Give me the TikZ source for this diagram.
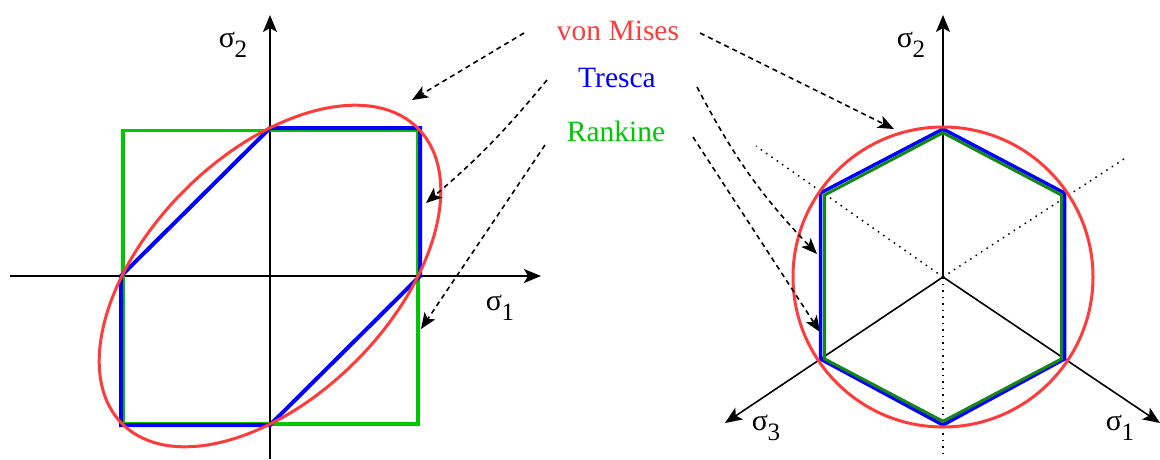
\documentclass[tikz,border=0pt]{standalone}
\usepackage{fontspec}
\setmainfont{Liberation Serif}
\usetikzlibrary{arrows.meta}
\definecolor{vmred}{RGB}{255,60,60}
\definecolor{trblue}{RGB}{0,0,255}
\definecolor{rkgreen}{RGB}{0,200,0}
\definecolor{rkdgreen}{RGB}{20,135,20}
\newcommand{\sigl}[1]{σ\kern-0.5pt\raisebox{-0.32em}{\fontsize{25}{25}\selectfont #1}}
\begin{document}
\begin{tikzpicture}[x=1pt,y=-1pt,
  axis/.style={line width=1.6pt},
  axarrow/.style={axis,-{Stealth[length=17pt,width=14pt,inset=4pt]}},
  callout/.style={line width=1.6pt, dash pattern=on 5pt off 4pt, -{Stealth[length=16pt,width=13pt,inset=4pt]}},
  dotline/.style={line width=1.5pt, dash pattern=on 1.5pt off 5pt},
  lbl/.style={font=\fontsize{29.5}{31}\selectfont, anchor=base, inner sep=0pt},
  siglbl/.style={font=\fontsize{30}{30}\selectfont, inner sep=0pt},
  vm/.style={vmred, line width=3pt},
  tr/.style={trblue, line width=4pt, line join=miter},
  rk/.style={line width=3.5pt, line join=miter}]
\useasboundingbox (0,0) rectangle (1160,459);

% ---------- left plot ----------
\coordinate (O1) at (270,276);
\coordinate (L1b) at (270,459);
\coordinate (L1t) at (270,15);
\coordinate (L1l) at (10,276);
\coordinate (L1r) at (541,276);
\draw[axis] (L1b) -- (O1);
\draw[axarrow] (O1) -- (L1t);
\draw[axis] (L1l) -- (O1);
\draw[axarrow] (O1) -- (L1r);
\draw[rk, rkgreen] (123,130.5) rectangle (418,424);
\draw[tr] (270,128) -- (420,128) -- (420,276) -- (270,425) -- (121,425) -- (121,276) -- cycle;
\draw[vm, rotate around={45:(O1)}] (O1) ellipse [x radius=209, y radius=121];
\node[siglbl] (s2L) at (233,45) {\sigl{2}};
\node[siglbl] (s1L) at (500,308) {\sigl{1}};

% ---------- right plot ----------
\coordinate (O2) at (943,277);
\coordinate (R2t) at (943,15);
\coordinate (R1t) at (1160,423);
\coordinate (R3t) at (725,423);
\coordinate (Dul) at (756,146);
\coordinate (Dur) at (1127,157);
\coordinate (Db) at (943,459);
\draw[dotline] (O2) -- (Dul);
\draw[dotline] (O2) -- (Dur);
\draw[dotline] (O2) -- (Db);
\draw[axarrow] (O2) -- (R2t);
\draw[axarrow] (O2) -- (R1t);
\draw[axarrow] (O2) -- (R3t);
\draw[tr, line width=3.5pt] (943,129) -- (1064.5,193) -- (1064.5,359) -- (943,425) -- (820.5,359) -- (820.5,193) -- cycle;
\draw[rk, rkdgreen, line width=3pt] (943,132.7) -- (1061.5,195.1) -- (1061.5,358.9) -- (943,421.3) -- (824.5,358.9) -- (824.5,195.1) -- cycle;
\draw[vm] (O2) circle [radius=150];
\node[siglbl] (s2R) at (911,45) {\sigl{2}};
\node[siglbl] (s3R) at (766,428) {\sigl{3}};
\node[siglbl] (s1R) at (1120,428) {\sigl{1}};

% ---------- legend ----------
\node[lbl, text=vmred] (vmt) at (618,40) {von Mises};
\node[lbl, text=trblue] (trt) at (617,87) {Tresca};
\node[lbl, text=rkgreen] (rkt) at (616,141.5) {Rankine};

\coordinate (aL1s) at (524,33);  \coordinate (aL1e) at (412,100);
\coordinate (aL2s) at (547,80);  \coordinate (aL2e) at (426,203);
\coordinate (aL3s) at (545,145); \coordinate (aL3e) at (421,329);
\coordinate (aR1s) at (700,33);  \coordinate (aR1e) at (894,129);
\coordinate (aR2s) at (697,87);  \coordinate (aR2e) at (817,254);
\coordinate (aR3s) at (693,137); \coordinate (aR3e) at (820,332);
\draw[callout] (aL1s) -- (aL1e);
\draw[callout] (aL2s) to[bend left=5] (aL2e);
\draw[callout] (aL3s) -- (aL3e);
\draw[callout] (aR1s) -- (aR1e);
\draw[callout] (aR2s) to[bend right=8] (aR2e);
\draw[callout] (aR3s) -- (aR3e);
\end{tikzpicture}
\end{document}
